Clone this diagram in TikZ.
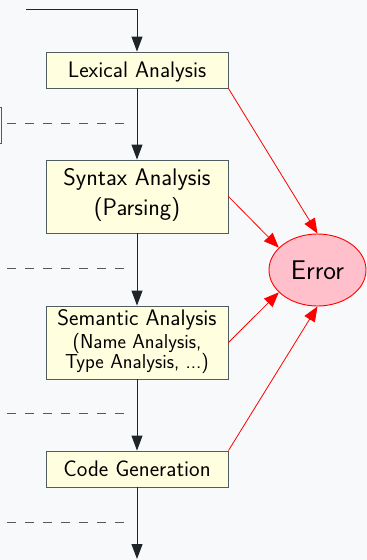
\documentclass[tikz,border=0pt]{standalone}
\usetikzlibrary{arrows.meta,shapes.geometric}
\definecolor{bgc}{RGB}{248,249,250}
\definecolor{linec}{RGB}{30,36,40}
\definecolor{boxline}{RGB}{80,92,95}
\definecolor{dashc}{RGB}{80,90,96}
\definecolor{boxfill}{RGB}{255,255,224}
\definecolor{errfill}{RGB}{255,192,203}
\newcommand\stageline[3]{\hbox to 182pt{\hfil\rule[-#2pt]{0pt}{\dimexpr #1pt + #2pt\relax}\smash{#3}\hfil}}
\newcommand\stagetext[1]{\vbox{\offinterlineskip #1}}
\newcommand\bigsz{\fontsize{24}{30}\selectfont}
\newcommand\smallsz{\fontsize{20.2}{22}\selectfont}
\tikzset{
  stage/.style={draw=boxline, fill=boxfill, line width=0.9pt, minimum width=182pt, inner sep=0pt, font=\sffamily\fontsize{22.5}{26}\selectfont},
  errnode/.style={ellipse, draw=red, fill=errfill, line width=0.9pt, minimum width=97pt, minimum height=72pt, inner sep=0pt, font=\sffamily\fontsize{27}{32}\selectfont},
  flow/.style={draw=linec, line width=1pt, -{Triangle[length=15pt,width=11pt]}},
  plain/.style={draw=linec, line width=1pt},
  toerr/.style={draw=red, line width=0.8pt, -{Triangle[length=15pt,width=12pt]}},
  sideline/.style={draw=dashc, line width=1pt, dash pattern=on 9pt off 9pt},
  bracket/.style={draw=boxline, line width=1pt}
}
\begin{document}
\begin{tikzpicture}[x=1pt,y=-1pt]
\fill[bgc] (0,0) rectangle (367,560);
\useasboundingbox (0,0) rectangle (367,560);

\node[stage] (lex) at (137,70) {\stagetext{\stageline{25.3}{10.7}{Lexical Analysis}}};
\node[stage] (syn) at (137,196.5) {\stagetext{%
  \stageline{25}{15}{\bigsz Syntax Analysis}%
  \stageline{15}{18}{\bigsz (Parsing)}}};
\node[stage] (sem) at (137,342.5) {\stagetext{%
  \stageline{19.7}{11}{Semantic Analysis}%
  \stageline{11.3}{9}{\smallsz (Name Analysis,}%
  \stageline{11}{11}{\smallsz Type Analysis, ...)}}};
\node[stage] (cg) at (137,469) {\stagetext{\stageline{25.7}{10.3}{Code Generation}}};
\node[errnode] (err) at (317.5,270) {Error};

\coordinate (start) at (26,9);
\coordinate (bend) at (137,9);
\coordinate (finish) at (137,559);
\draw[plain] (start) -- (bend);
\draw[flow] (bend) -- (lex.north);
\draw[flow] (lex.south) -- (syn.north);
\draw[flow] (syn.south) -- (sem.north);
\draw[flow] (sem.south) -- (cg.north);
\draw[flow] (cg.south) -- (finish);

\draw[toerr] (lex.south east) -- (err.north);
\draw[toerr] (syn.east) -- (err.150);
\draw[toerr] (sem.east) -- (err.210);
\draw[toerr] (cg.north east) -- (err.south);

\coordinate (b1) at (-3,107);
\coordinate (b2) at (1,107);
\coordinate (b3) at (1,143);
\coordinate (b4) at (-3,143);
\draw[bracket] (b1) -- (b2) -- (b3) -- (b4);

\coordinate (d1a) at (7,123);   \coordinate (d1b) at (125,123);
\coordinate (d2a) at (7,268);   \coordinate (d2b) at (125,268);
\coordinate (d3a) at (7,413);   \coordinate (d3b) at (125,413);
\coordinate (d4a) at (7,522);   \coordinate (d4b) at (125,522);
\draw[sideline] (d1a) -- (d1b);
\draw[sideline] (d2a) -- (d2b);
\draw[sideline] (d3a) -- (d3b);
\draw[sideline] (d4a) -- (d4b);
\end{tikzpicture}
\end{document}
